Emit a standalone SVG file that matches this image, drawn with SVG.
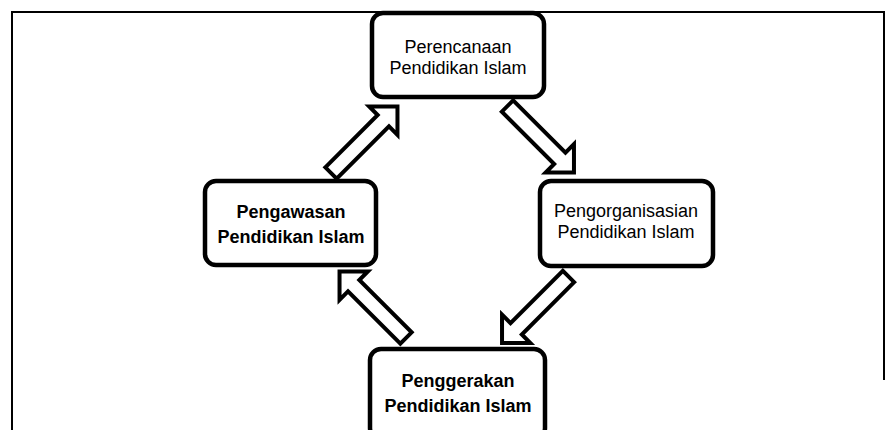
<svg xmlns="http://www.w3.org/2000/svg" width="895" height="430" viewBox="0 0 895 430">
  <style>
    .box { fill: #ffffff; stroke: #000000; stroke-width: 4.5; }
    .arrow { fill: #ffffff; stroke: #000000; stroke-width: 4; stroke-linejoin: miter; }
    .t { font-family: "Liberation Sans", Arial, sans-serif; font-size: 18px; fill: #000000; text-anchor: middle; }
    .b { font-weight: bold; }
    .frame { fill: none; stroke: #000000; stroke-width: 2; }
  </style>
  <defs>
    <polygon id="blockArrow" points="0,-8 74,-8 74,-20 94,0 74,20 74,8 0,8"/>
  </defs>
  <path class="frame" d="M12,430 L12,12 L884,12 L884,380"/>
  <g id="connectors">
    <use href="#blockArrow" class="arrow" transform="translate(507.5,106) rotate(45)"/>
    <use href="#blockArrow" class="arrow" transform="translate(568.5,276.5) rotate(135)"/>
    <use href="#blockArrow" class="arrow" transform="translate(406,338) rotate(-135)"/>
    <use href="#blockArrow" class="arrow" transform="translate(331,173) rotate(-45)"/>
  </g>
  <g id="perencanaan">
    <rect class="box" x="372" y="13" width="172" height="84" rx="11"/>
    <text class="t" x="458" y="53">Perencanaan</text>
    <text class="t" x="458" y="74">Pendidikan Islam</text>
  </g>
  <g id="pengorganisasian">
    <rect class="box" x="540" y="181" width="173" height="85" rx="11"/>
    <text class="t" x="626" y="217">Pengorganisasian</text>
    <text class="t" x="626" y="238">Pendidikan Islam</text>
  </g>
  <g id="pengawasan">
    <rect class="box" x="205" y="181" width="171" height="84" rx="11"/>
    <text class="t b" x="291" y="218">Pengawasan</text>
    <text class="t b" x="291" y="243">Pendidikan Islam</text>
  </g>
  <g id="penggerakan">
    <rect class="box" x="370" y="349" width="175" height="90" rx="11"/>
    <text class="t b" x="458" y="387">Penggerakan</text>
    <text class="t b" x="458" y="412">Pendidikan Islam</text>
  </g>
</svg>
